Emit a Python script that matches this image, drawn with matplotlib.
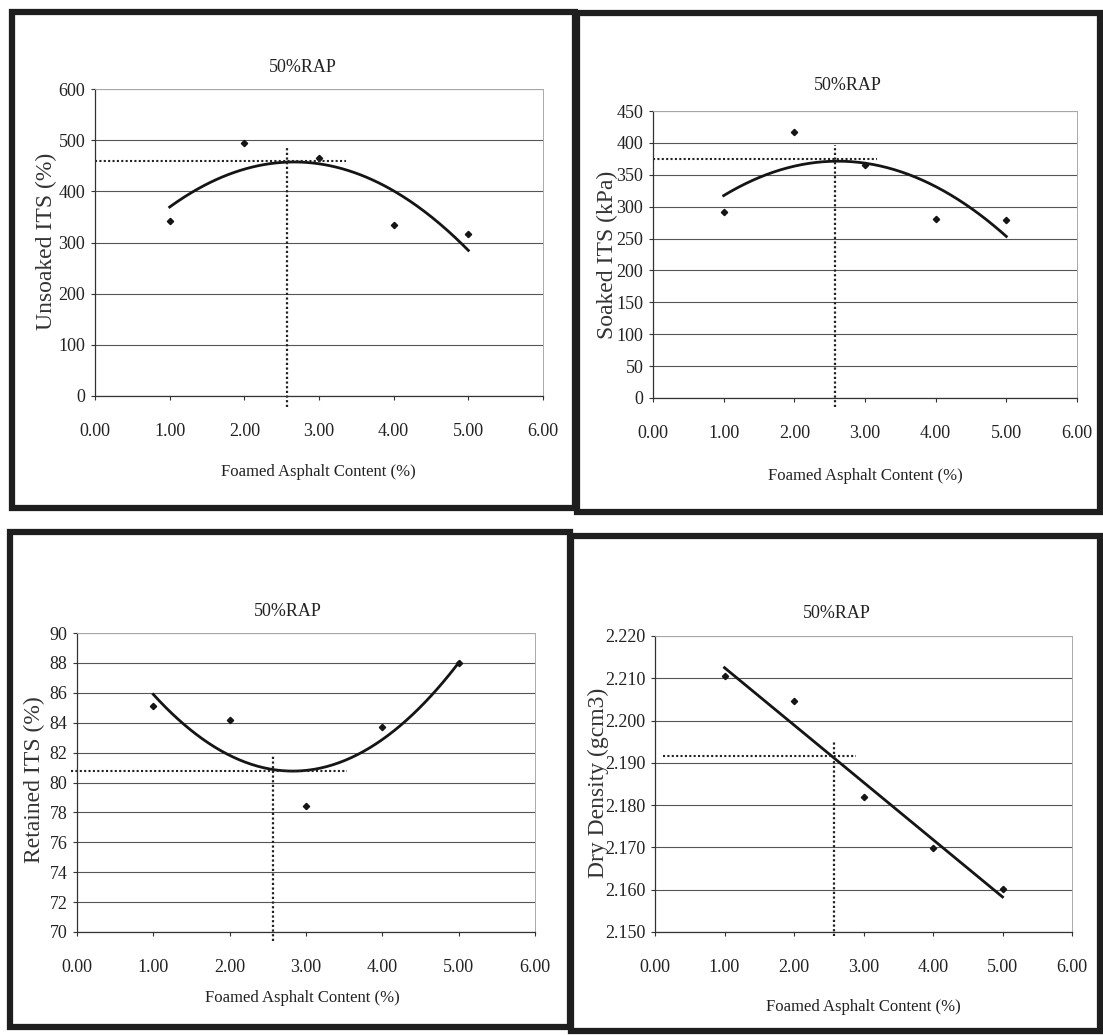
import numpy as np
import matplotlib.pyplot as plt
from matplotlib.patches import Rectangle
from matplotlib.ticker import FormatStrFormatter, MultipleLocator

plt.rcParams['font.family'] = ['Liberation Serif', 'DejaVu Serif']
plt.rcParams['text.color'] = '#222222'

W, H = 1103, 1035

# data
foam_content = [1.0, 2.0, 3.0, 4.0, 5.0]
unsoaked_its = [342, 494, 466, 334, 316]
soaked_its = [291, 417, 366, 281, 279]
retained_its = [85.1, 84.2, 78.4, 83.7, 88.0]
dry_density = [2.2105, 2.2046, 2.1819, 2.1699, 2.1601]

opt_content = 2.57
opt_values = [460, 375, 80.8, 2.1917]
opt_hline_x = [(0.0, 3.36), (0.0, 3.17), (-0.08, 3.54), (0.12, 2.89)]
opt_vline_y = [(-21, 487), (-14, 397), (69.4, 81.84), (2.149, 2.195)]

series = [unsoaked_its, soaked_its, retained_its, dry_density]
fit_order = [2, 2, 2, 1]
ylabels = ['Unsoaked ITS (%)', 'Soaked ITS (kPa)', 'Retained ITS (%)', 'Dry Density (gcm3)']
ylims = [(0, 600), (0, 450), (70, 90), (2.150, 2.220)]
ysteps = [100, 50, 2, 0.01]
yfmts = ['%.0f', '%.0f', '%.0f', '%.3f']
title = '50%RAP'
xlabel = 'Foamed Asphalt Content (%)'

# layout in pixels (left, top, right, bottom)
axes_px = [(95, 89, 543, 396), (653, 111, 1077, 398),
           (77, 633, 535, 932), (655, 636, 1072, 932)]
border_px = [(12, 12, 575, 508), (577, 13, 1100, 512),
             (10, 532, 570, 1027), (571, 536, 1100, 1031)]
title_px = [(303, 68), (848, 86), (288, 612), (837, 613)]
xlabel_px = [(318, 472), (865, 476), (302, 998), (863, 1007)]
ylabel_px = [(46, 241), (607, 255), (34, 780), (598, 783)]


def fx(x):
    return x / W


def fy(y):
    return 1 - y / H


fig = plt.figure(figsize=(W / 100, H / 100), dpi=100)
fig.patch.set_facecolor('white')

for i in range(4):
    l, t, r, b = border_px[i]
    fig.add_artist(Rectangle((fx(l), fy(b)), fx(r) - fx(l), fy(t) - fy(b),
                             transform=fig.transFigure, fill=False,
                             edgecolor='#1e1e1e', linewidth=4.5))

    l, t, r, b = axes_px[i]
    ax = fig.add_axes([fx(l), fy(b), fx(r) - fx(l), fy(t) - fy(b)])
    y = series[i]

    ax.set_xlim(0, 6)
    ax.set_ylim(*ylims[i])
    ax.xaxis.set_major_locator(MultipleLocator(1))
    ax.xaxis.set_major_formatter(FormatStrFormatter('%.2f'))
    ax.yaxis.set_major_locator(MultipleLocator(ysteps[i]))
    ax.yaxis.set_major_formatter(FormatStrFormatter(yfmts[i]))
    ax.grid(axis='y', color='#555555', linewidth=0.8)
    ax.set_axisbelow(True)
    for side in ['left', 'bottom']:
        ax.spines[side].set_color('#333333')
        ax.spines[side].set_linewidth(0.9)
    for side in ['top', 'right']:
        ax.spines[side].set_color('#aaaaaa')
        ax.spines[side].set_linewidth(0.7)
    ax.tick_params(axis='x', direction='out', length=3, pad=16.5,
                   labelsize=13, colors='#333333', labelcolor='#222222')
    ax.tick_params(axis='y', direction='out', length=3, pad=4,
                   labelsize=13, colors='#333333', labelcolor='#222222')

    coef = np.polyfit(foam_content, y, fit_order[i])
    xs = np.linspace(1, 5, 200)
    ax.plot(xs, np.polyval(coef, xs), color='#151515', linewidth=2.0)
    ax.plot(foam_content, y, 'D', color='#151515', markersize=3.2)

    ax.plot(opt_hline_x[i], [opt_values[i], opt_values[i]], color='#222222',
            linestyle=(0, (1, 1.1)), linewidth=1.5, clip_on=False)
    ax.plot([opt_content, opt_content], opt_vline_y[i], color='#222222',
            linestyle=(0, (1, 1.1)), linewidth=1.6, clip_on=False)

    tx, ty = title_px[i]
    fig.text(fx(tx), fy(ty), title, fontsize=13, ha='center', va='center')
    tx, ty = xlabel_px[i]
    fig.text(fx(tx), fy(ty), xlabel, fontsize=12, ha='center', va='center')
    tx, ty = ylabel_px[i]
    fig.text(fx(tx), fy(ty), ylabels[i], fontsize=17, ha='center',
             va='center', rotation=90, color='#333333')

fig.savefig('out.png', dpi=100)
